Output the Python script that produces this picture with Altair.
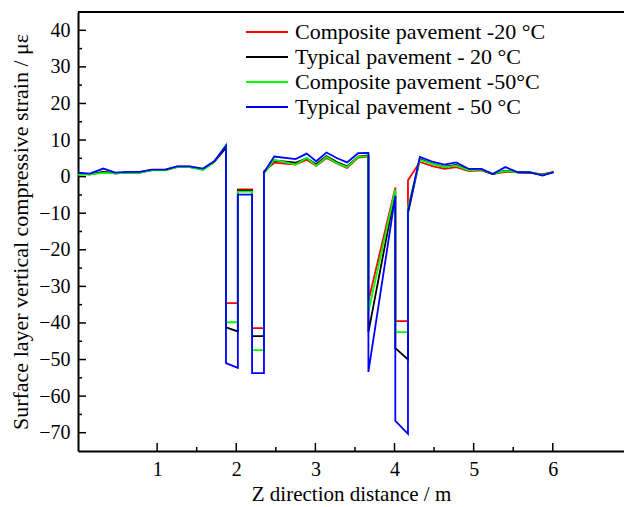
import altair as alt
import pandas as pd

# Shared path of x positions (m); repeated x values make the vertical jumps
x_pos = [0.0, 0.15, 0.32, 0.47, 0.62, 0.78, 0.93, 1.10, 1.25, 1.41, 1.58, 1.72, 1.87,
         1.87, 2.02, 2.02, 2.20, 2.20, 2.35, 2.35,
         2.48, 2.75, 2.89, 3.01, 3.14, 3.27, 3.40, 3.54, 3.67,
         3.67, 4.01, 4.01, 4.17, 4.17,
         4.32, 4.49, 4.63, 4.78, 4.94, 5.10, 5.24, 5.40, 5.56, 5.71, 5.87, 6.01]

red_y = [0.8, 0.6, 1.2, 0.9, 1.1, 1.1, 1.8, 1.8, 2.6, 2.6, 2.0, 4.0, 7.9,
         -34.6, -34.6, -3.5, -3.5, -41.4, -41.4, 1.5,
         3.8, 3.3, 4.6, 2.9, 5.1, 3.6, 2.4, 5.2, 5.5,
         -34.0, -3.0, -39.5, -39.5, -1.0,
         4.0, 2.8, 2.1, 2.6, 1.5, 1.7, 0.7, 1.3, 1.2, 1.0, 0.7, 1.2]

black_y = [0.9, 0.6, 1.3, 0.9, 1.1, 1.2, 1.8, 1.8, 2.7, 2.7, 2.0, 4.0, 8.0,
           -41.2, -42.3, -3.8, -3.8, -43.6, -43.6, 1.0,
           4.4, 3.8, 5.0, 3.4, 5.6, 4.0, 2.8, 5.5, 5.8,
           -42.5, -4.0, -46.9, -50.0, -10.0,
           4.8, 3.5, 2.7, 3.2, 1.8, 1.9, 0.7, 1.6, 1.2, 1.1, 0.5, 1.2]

green_y = [0.5, 0.6, 1.0, 0.9, 1.0, 1.1, 1.7, 1.7, 2.6, 2.6, 1.8, 4.0, 8.7,
           -39.8, -39.8, -4.1, -4.1, -47.4, -47.4, 0.8,
           4.6, 3.3, 5.1, 3.0, 5.4, 3.7, 2.6, 5.4, 5.6,
           -37.0, -3.5, -42.5, -42.5, -8.5,
           4.6, 3.4, 2.6, 3.0, 1.7, 1.9, 0.8, 1.5, 1.2, 1.2, 0.5, 1.2]

blue_y = [1.1, 0.8, 2.2, 1.1, 1.3, 1.3, 1.9, 1.9, 2.8, 2.8, 2.2, 4.2, 8.4,
          -51.0, -52.3, -4.9, -4.9, -53.7, -53.7, 1.1,
          5.5, 4.8, 6.3, 4.2, 6.6, 5.1, 3.9, 6.4, 6.5,
          -53.4, -5.2, -66.8, -70.3, -9.5,
          5.4, 4.0, 3.3, 3.9, 2.1, 2.1, 0.7, 2.6, 1.2, 1.2, 0.3, 1.2]

series_names = ["Composite pavement -20 °C", "Typical pavement - 20 °C",
                "Composite pavement -50°C", "Typical pavement - 50 °C"]
series_colors = ["#ff0000", "#000000", "#00ff00", "#0000ff"]
series_values = [red_y, black_y, green_y, blue_y]

x_major = [1, 2, 3, 4, 5, 6]
x_minor = [1.5, 2.5, 3.5, 4.5, 5.5]
y_major = [-70, -60, -50, -40, -30, -20, -10, 0, 10, 20, 30, 40]
y_minor = [-65, -55, -45, -35, -25, -15, -5, 5, 15, 25, 35]

rows = []
for name, ys in zip(series_names, series_values):
    for i, (xv, yv) in enumerate(zip(x_pos, ys)):
        rows.append({"x": xv, "y": yv, "series": name, "idx": i})
df = pd.DataFrame(rows)

W, H = 546, 439
FONT = "Liberation Serif"

xscale = alt.Scale(domain=[0, 6.9], nice=False, zero=False)
yscale = alt.Scale(domain=[-75, 45], nice=False, zero=False)

xaxis = alt.Axis(values=x_major, format="d", ticks=False, grid=False,
                 labelPadding=8, labelOverlap=False,
                 title="Z direction distance / m", titlePadding=4, titleFontSize=21)
yaxis = alt.Axis(values=y_major, format="d", ticks=False, grid=False,
                 labelPadding=8, labelOverlap=False,
                 title="Surface layer vertical compressive strain / με",
                 titlePadding=6, titleFontSize=22)

lines = alt.Chart(df).mark_line(strokeWidth=1.8, clip=True).encode(
    x=alt.X("x:Q", scale=xscale, axis=xaxis),
    y=alt.Y("y:Q", scale=yscale, axis=yaxis),
    color=alt.Color("series:N",
                    scale=alt.Scale(domain=series_names, range=series_colors),
                    legend=alt.Legend(title=None, orient="none", legendX=176, legendY=7,
                                      symbolType="M-1.75,0L1.75,0", symbolSize=576,
                                      symbolStrokeWidth=2, labelOffset=15,
                                      labelFont=FONT, labelFontSize=22, labelLimit=0,
                                      labelColor="black", rowPadding=1, padding=0)),
    order="idx:Q",
)

xmaj = alt.Chart(pd.DataFrame({"x": x_major})).mark_rule(color="black", strokeWidth=1.5).encode(
    x=alt.X("x:Q", scale=xscale, axis=xaxis), y=alt.value(H), y2=alt.value(H - 8))
xmin = alt.Chart(pd.DataFrame({"x": x_minor})).mark_rule(color="black", strokeWidth=1.5).encode(
    x=alt.X("x:Q", scale=xscale, axis=xaxis), y=alt.value(H), y2=alt.value(H - 4))
ymaj = alt.Chart(pd.DataFrame({"y": y_major})).mark_rule(color="black", strokeWidth=1.5).encode(
    y=alt.Y("y:Q", scale=yscale, axis=yaxis), x=alt.value(0), x2=alt.value(8))
ymin = alt.Chart(pd.DataFrame({"y": y_minor})).mark_rule(color="black", strokeWidth=1.5).encode(
    y=alt.Y("y:Q", scale=yscale, axis=yaxis), x=alt.value(0), x2=alt.value(4))
top = alt.Chart(pd.DataFrame({"v": [0]})).mark_rule(color="black", strokeWidth=2).encode(
    x=alt.value(0), x2=alt.value(W), y=alt.value(0))

chart = alt.layer(lines, xmaj, xmin, ymaj, ymin, top).properties(
    width=W, height=H, autosize="none",
    padding={"left": 78, "top": 12, "right": 0, "bottom": 56},
).configure_view(stroke=None).configure_axis(
    domainColor="black", domainWidth=2, labelColor="black",
    labelFont=FONT, labelFontSize=20, titleFont=FONT,
    titleFontWeight="normal", titleColor="black",
).configure_legend(labelFont=FONT)

chart.save("out.html", embed_options={"renderer": "svg", "actions": False})
